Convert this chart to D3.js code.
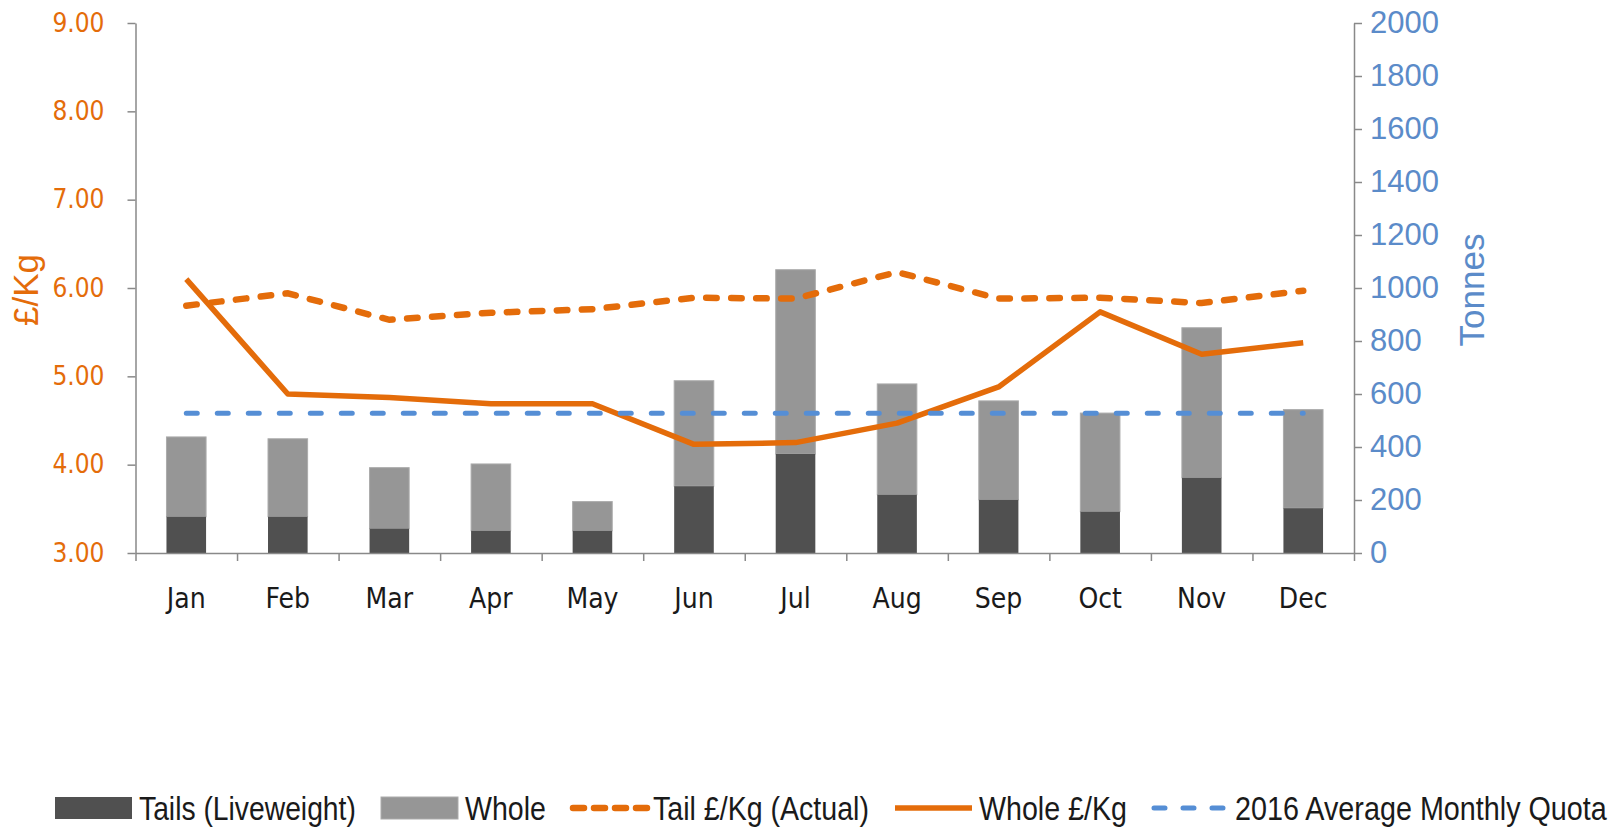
<!DOCTYPE html>
<html>
<head>
<meta charset="utf-8">
<script src="https://cdn.jsdelivr.net/npm/d3@7"></script>
<style>
  html, body { margin: 0; padding: 0; background: #fff; }
  svg { display: block; }
</style>
</head>
<body>
<div id="chart"></div>
<script>
var months = ['Jan', 'Feb', 'Mar', 'Apr', 'May', 'Jun', 'Jul', 'Aug', 'Sep', 'Oct', 'Nov', 'Dec'];
var tails = [137, 137, 92, 84, 84, 252, 374, 220, 201, 156, 284, 169];
var whole = [301, 294, 230, 252, 110, 398, 695, 418, 373, 372, 566, 372];
var tailPrice = [5.80, 5.94, 5.64, 5.72, 5.76, 5.89, 5.88, 6.18, 5.88, 5.89, 5.83, 5.97];
var wholePrice = [6.10, 4.80, 4.76, 4.69, 4.69, 4.23, 4.25, 4.47, 4.88, 5.73, 5.25, 5.38];
var quota = [527, 527, 527, 527, 527, 527, 527, 527, 527, 527, 527, 527];
var leftTicks = [3, 4, 5, 6, 7, 8, 9];
var rightTicks = [0, 200, 400, 600, 800, 1000, 1200, 1400, 1600, 1800, 2000];
var legendLabels = ['Tails (Liveweight)', 'Whole', 'Tail £/Kg (Actual)', 'Whole £/Kg', '2016 Average Monthly Quota'];

var orange = '#e46c0a';
var blue = '#558ed5';
var blueText = '#5b8bc9';
var axisGrey = '#898989';

var width = 1622, height = 827;
var margin = { top: 23, right: 268, bottom: 274, left: 135.5 };
var plotRight = width - margin.right;
var plotBottom = height - margin.bottom;

var svg = d3.select('#chart').append('svg')
    .attr('width', width)
    .attr('height', height);

var x = d3.scaleBand()
    .domain(months)
    .range([margin.left, plotRight])
    .padding(0);

var xEdge = d3.scaleLinear()
    .domain([0, months.length])
    .range([margin.left, plotRight]);

var yL = d3.scaleLinear().domain([3, 9]).range([plotBottom, margin.top]);
var yR = d3.scaleLinear().domain([0, 2000]).range([plotBottom, margin.top]);

var barW = x.bandwidth() * 0.39;
function cx(d) { return x(d) + x.bandwidth() / 2; }

// Bars (stacked)
var rows = months.map(function (m, i) { return { m: m, tails: tails[i], whole: whole[i] }; });

svg.append('g').selectAll('rect.whole')
    .data(rows)
    .enter()
  .append('rect')
    .attr('x', function (d) { return cx(d.m) - barW / 2; })
    .attr('y', function (d) { return yR(d.tails + d.whole); })
    .attr('width', barW)
    .attr('height', function (d) { return yR(d.tails) - yR(d.tails + d.whole); })
    .attr('fill', '#969696')
    .attr('stroke', '#ababab')
    .attr('stroke-width', 1);

svg.append('g').selectAll('rect.tails')
    .data(rows)
    .enter()
  .append('rect')
    .attr('x', function (d) { return cx(d.m) - barW / 2; })
    .attr('y', function (d) { return yR(d.tails); })
    .attr('width', barW)
    .attr('height', function (d) { return yR(0) - yR(d.tails); })
    .attr('fill', '#505050');

// Axes
var fontTick = '"DejaVu Sans Condensed", "DejaVu Sans", sans-serif';

var leftAxis = svg.append('g')
    .attr('transform', 'translate(' + margin.left + ',0)')
    .call(d3.axisLeft(yL).tickValues(leftTicks).tickFormat(d3.format('.2f')).tickSize(8).tickSizeOuter(0).tickPadding(23));
leftAxis.selectAll('text').attr('fill', orange).style('font-family', fontTick).style('font-size', '26px');

var rightAxis = svg.append('g')
    .attr('transform', 'translate(' + plotRight + ',0)')
    .call(d3.axisRight(yR).tickValues(rightTicks).tickFormat(d3.format('d')).tickSize(8).tickSizeOuter(0).tickPadding(8));
rightAxis.selectAll('text').attr('fill', blueText).style('font-family', '"Liberation Sans", Arial, sans-serif').style('font-size', '31px');

var bottomAxis = svg.append('g')
    .attr('transform', 'translate(0,' + plotBottom + ')')
    .call(d3.axisBottom(xEdge).tickValues(d3.range(0, months.length + 1)).tickFormat('').tickSize(8).tickSizeOuter(0));

var monthAxis = svg.append('g')
    .attr('transform', 'translate(0,' + plotBottom + ')')
    .call(d3.axisBottom(x).tickSize(0).tickPadding(35));
monthAxis.select('.domain').remove();
monthAxis.selectAll('text').attr('fill', '#1a1a1a').style('font-family', fontTick).style('font-size', '28px');

svg.selectAll('.domain, .tick line').attr('stroke', axisGrey).attr('stroke-width', 1.5);

// Axis titles
svg.append('text')
    .attr('transform', 'translate(38,290) rotate(-90)')
    .attr('text-anchor', 'middle')
    .attr('fill', orange)
    .style('font-family', '"Liberation Sans", Arial, sans-serif')
    .style('font-size', '35px')
    .text('£/Kg');

svg.append('text')
    .attr('transform', 'translate(1484,290) rotate(-90)')
    .attr('text-anchor', 'middle')
    .attr('fill', blueText)
    .style('font-family', '"Liberation Sans", Arial, sans-serif')
    .style('font-size', '35px')
    .text('Tonnes');

// Lines
var lineL = d3.line()
    .x(function (d) { return cx(d.m); })
    .y(function (d) { return yL(d.v); });

var lineR = d3.line()
    .x(function (d) { return cx(d.m); })
    .y(function (d) { return yR(d.v); });

svg.append('path')
    .datum(months.map(function (m, i) { return { m: m, v: tailPrice[i] }; }))
    .attr('d', lineL)
    .attr('fill', 'none')
    .attr('stroke', orange)
    .attr('stroke-width', 6.5)
    .attr('stroke-linecap', 'round')
    .attr('stroke-dasharray', '10.5,14.5');

svg.append('path')
    .datum(months.map(function (m, i) { return { m: m, v: wholePrice[i] }; }))
    .attr('d', lineL)
    .attr('fill', 'none')
    .attr('stroke', orange)
    .attr('stroke-width', 5.5)
    .attr('stroke-linejoin', 'round');

svg.append('path')
    .datum(months.map(function (m, i) { return { m: m, v: quota[i] }; }))
    .attr('d', lineR)
    .attr('fill', 'none')
    .attr('stroke', blue)
    .attr('stroke-width', 5)
    .attr('stroke-linecap', 'round')
    .attr('stroke-dasharray', '11,20');

// Legend
var legendY = 808;
var legendX = [55, 381, 569, 895, 1151];
var legendW = [217, 81, 216, 148, 372];
var legend = svg.append('g');

legend.append('rect').attr('x', legendX[0]).attr('y', legendY - 11).attr('width', 77).attr('height', 22).attr('fill', '#505050');
legend.append('rect').attr('x', legendX[1]).attr('y', legendY - 11).attr('width', 77).attr('height', 22).attr('fill', '#969696').attr('stroke', '#ababab');
legend.append('line').attr('x1', legendX[2] + 4).attr('x2', legendX[2] + 78).attr('y1', legendY).attr('y2', legendY)
    .attr('stroke', orange).attr('stroke-width', 6.5).attr('stroke-linecap', 'round').attr('stroke-dasharray', '11,10');
legend.append('line').attr('x1', legendX[3]).attr('x2', legendX[3] + 77).attr('y1', legendY).attr('y2', legendY)
    .attr('stroke', orange).attr('stroke-width', 5.5);
legend.append('line').attr('x1', legendX[4] + 3).attr('x2', legendX[4] + 77).attr('y1', legendY).attr('y2', legendY)
    .attr('stroke', blue).attr('stroke-width', 5).attr('stroke-linecap', 'round').attr('stroke-dasharray', '11,18');

// legend labels: a narrow face, squeezed horizontally to the reference widths
legend.selectAll('g.lbl')
    .data(legendLabels)
    .enter()
  .append('g')
    .attr('class', 'lbl')
    .attr('transform', function (d, i) { return 'translate(' + (legendX[i] + 84) + ',' + legendY + ')'; })
  .append('text')
    .attr('dy', '0.36em')
    .attr('fill', '#1a1a1a')
    .style('font-family', '"Liberation Sans", sans-serif')
    .style('font-size', '33px')
    .text(function (d) { return d; })
    .each(function (d, i) {
      var w = this.getComputedTextLength();
      d3.select(this).attr('transform', 'scale(' + (legendW[i] / w) + ',1)');
    });
</script>
</body>
</html>
